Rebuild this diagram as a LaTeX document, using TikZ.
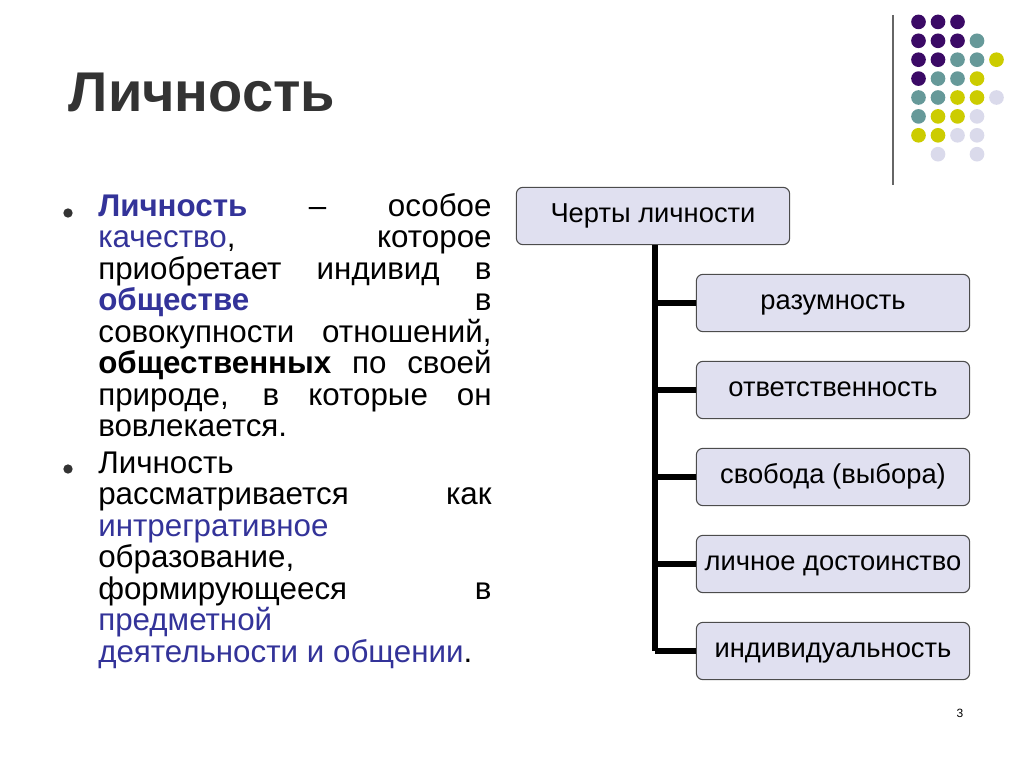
\documentclass[tikz,border=0pt]{standalone}
\usepackage{fontspec}
\setmainfont{Liberation Sans}
\usetikzlibrary{positioning}
\definecolor{darkpurple}{HTML}{3B0A66}
\definecolor{teal}{HTML}{669999}
\definecolor{olive}{HTML}{CCCC00}
\definecolor{lilac}{HTML}{DADAEB}
\definecolor{boxfill}{HTML}{E0E0F0}
\definecolor{textblue}{HTML}{333399}
\newcommand{\hl}[1]{\textcolor{textblue}{#1}}
\tikzset{trait/.style={draw=black!70,fill=boxfill,rounded corners=5pt,thick,
    minimum width=205pt,minimum height=43pt,font=\fontsize{20.5}{21}\selectfont,
    inner sep=0pt,text height=14pt,text depth=4pt},
  stem/.style={line width=4.5pt},
  dot/.style={circle,fill=#1,inner sep=0pt,minimum size=11pt}}
\begin{document}
\begin{tikzpicture}[x=0.75pt,y=-0.75pt]
\useasboundingbox (0,0) rectangle (1024,767);
% title
\node[anchor=west,font=\fontsize{42}{44}\selectfont\bfseries,text=black!80] (title) at (64,93) {Личность};
% decoration
\draw[black!60,line width=1.2pt] (893,15) -- (893,185);
\foreach \c [count=\r] in {{P,P,P,N,N},{P,P,P,T,N},{P,P,T,T,Y},{P,T,T,Y,N},{T,T,Y,Y,L},{T,Y,Y,L,N},{Y,Y,L,L,N},{N,L,N,L,N}}{
  \foreach \k [count=\i] in \c {
    \if\k P\node[dot=darkpurple] at ({899+19.5*\i},{3+18.9*\r}) {};\fi
    \if\k T\node[dot=teal] at ({899+19.5*\i},{3+18.9*\r}) {};\fi
    \if\k Y\node[dot=olive] at ({899+19.5*\i},{3+18.9*\r}) {};\fi
    \if\k L\node[dot=lilac] at ({899+19.5*\i},{3+18.9*\r}) {};\fi
  }}
% text
\node[anchor=north west,inner sep=0pt,text width=295pt,align=justify,
  font=\fontsize{23.5}{23.6}\selectfont] (body) at (98,193) {%
  \textcolor{textblue}{\textbf{Личность}} – особое\linebreak \hl{качество}, которое\linebreak приобретает индивид в\linebreak \hl{\textbf{обществе}} в\linebreak совокупности отношений,\linebreak \textbf{общественных} по своей\linebreak природе, в которые он\linebreak вовлекается.\par
  \vspace{4pt}
  Личность\linebreak рассматривается как\linebreak \hl{интрегративное}\\ образование,\\ формирующееся в\linebreak \hl{предметной}\\ \hl{деятельности и общении}.\par};
\node[circle,fill=black!80,inner sep=0pt,minimum size=7pt] (b1) at (68,213) {};
\node[circle,fill=black!80,inner sep=0pt,minimum size=7pt] (b2) at (68,469) {};
% chart
\node[trait,minimum width=205pt] (top) at (653,216) {Черты личности};
\node[trait] (t1) at (833,303) {разумность};
\node[trait] (t2) at (833,390) {ответственность};
\node[trait] (t3) at (833,477) {свобода (выбора)};
\node[trait] (t4) at (833,564) {личное достоинство};
\node[trait] (t5) at (833,651) {индивидуальность};
\coordinate (trunk) at (655,651);
\draw[stem] (top.south -| trunk) -- (trunk);
\foreach \n in {t1,t2,t3,t4,t5}
  \draw[stem] (\n.west -| trunk) -- (\n.west);
\node[font=\fontsize{9}{10}\selectfont] (page) at (960,713) {3};
\end{tikzpicture}
\end{document}
